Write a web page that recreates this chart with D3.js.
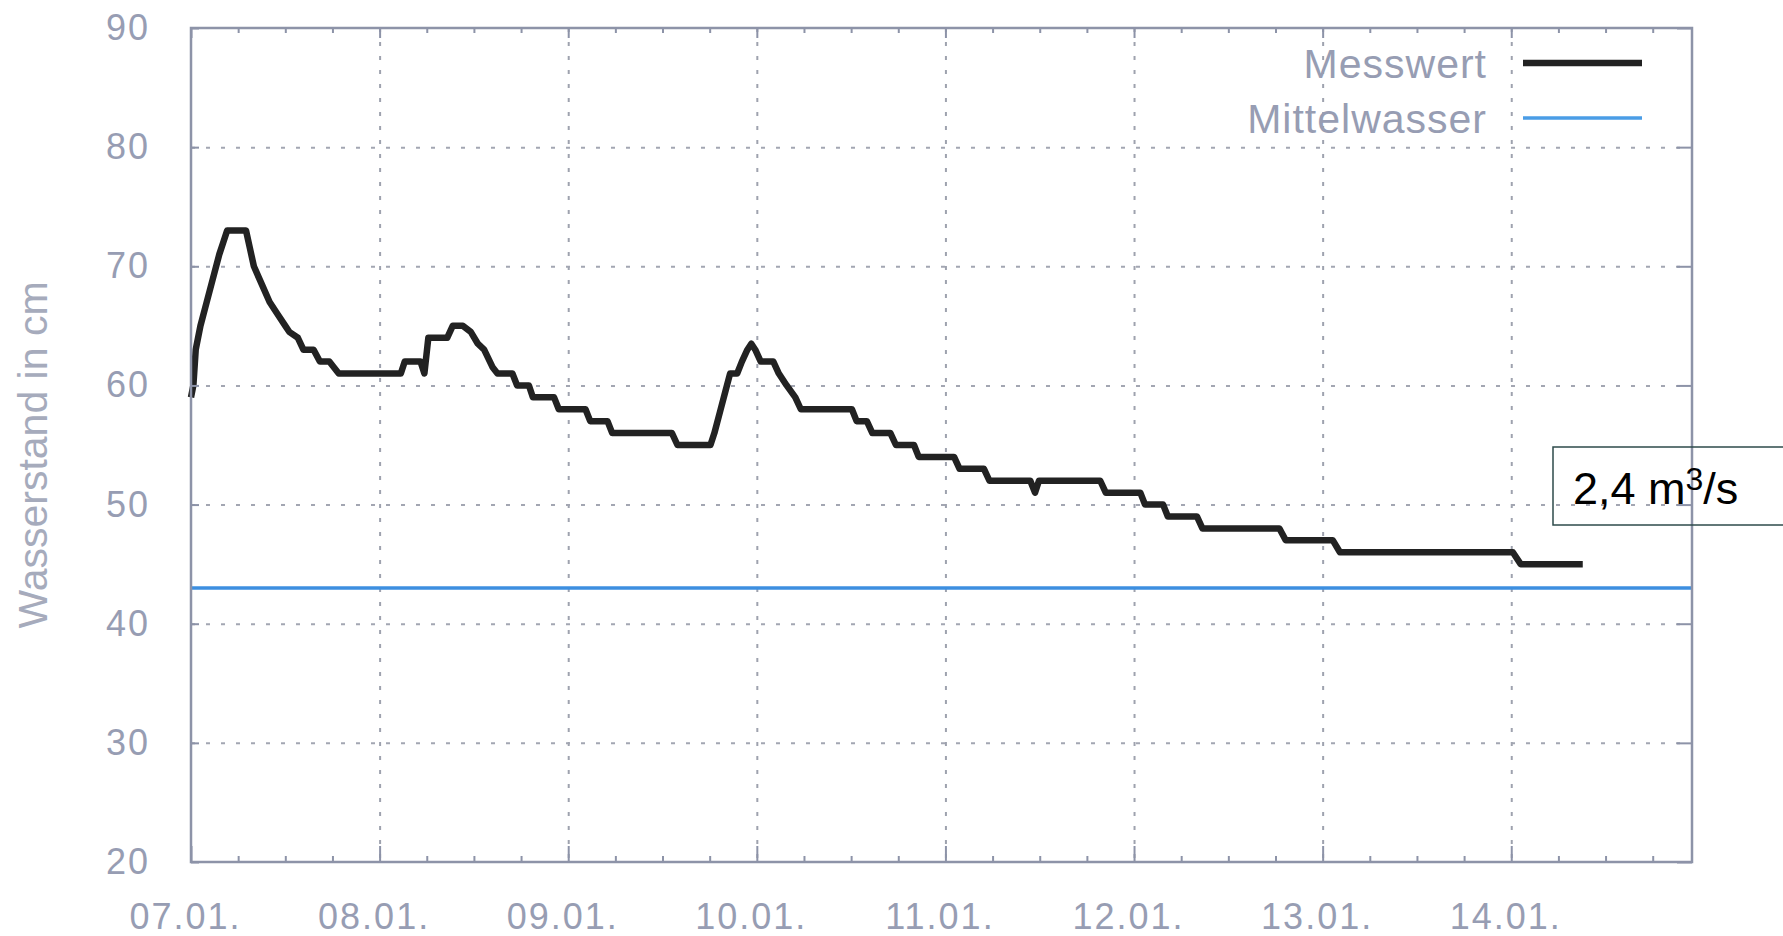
<!DOCTYPE html>
<html>
<head>
<meta charset="utf-8">
<script src="https://cdn.jsdelivr.net/npm/d3@7"></script>
<style>
  body { margin: 0; background: #fff; overflow: hidden; }
  svg text { font-family: "Liberation Sans", Arial, sans-serif; }
</style>
</head>
<body>
<div id="my_dataviz"></div>
<script>

// values: hours since 07.01. 00:00 and water level in cm
var hours = [0, 0.3, 0.6, 1.2, 2, 3, 3.6, 4.1, 4.6, 7, 7.5, 8, 9, 10, 11, 12, 12.5, 13.6, 14.3, 15.6,
  16.4, 17.6, 18.2, 18.8, 26.7, 27.2, 29.2, 29.7, 30.2, 32.6, 33.3, 34.6, 35.6, 36.5, 37.3, 38.4,
  39, 40.9, 41.5, 43, 43.5, 46.2, 46.8, 50.2, 50.8, 53, 53.6, 61.2, 61.9, 66.1, 66.6, 67.4, 68,
  68.6, 69.5, 70.1, 70.8, 71.3, 71.8, 72.5, 74.1, 74.8, 75.8, 76.9, 77.6, 84.1, 84.7, 86, 86.7,
  89, 89.7, 92, 92.6, 97.1, 97.8, 100.9, 101.6, 106.8, 107.4, 107.9, 115.7, 116.4, 120.8, 121.4,
  123.7, 124.3, 128, 128.7, 138.5, 139.3, 145.3, 146.2, 168.2, 169.2, 177.1];
var levels = [59, 60, 63, 65, 67, 69.5, 71, 72, 73, 73, 71.5, 70, 68.5, 67, 66, 65, 64.5, 64, 63, 63,
  62, 62, 61.5, 61, 61, 62, 62, 61, 64, 64, 65, 65, 64.5, 63.5, 63, 61.5,
  61, 61, 60, 60, 59, 59, 58, 58, 57, 57, 56, 56, 55, 55, 56, 58, 59.5,
  61, 61, 62, 63, 63.5, 63, 62, 62, 61, 60, 59, 58, 58, 57, 57, 56,
  56, 55, 55, 54, 54, 53, 53, 52, 52, 51, 52, 52, 51, 51, 50,
  50, 49, 49, 48, 48, 47, 47, 46, 46, 45, 45];
var mittelwasser = 43;

var seriesNames = ["Messwert", "Mittelwasser"];
var yTicks = [20, 30, 40, 50, 60, 70, 80, 90];
var dayTicks = [0, 24, 48, 72, 96, 120, 144, 168];
var dayLabels = ["07.01.", "08.01.", "09.01.", "10.01.", "11.01.", "12.01.", "13.01.", "14.01."];
var yTitle = "Wasserstand in cm";

var data = hours.map(function(h, i) { return {h: h, v: levels[i]}; });

// set the dimensions and margins of the graph
var margin = {top: 28, right: 91, bottom: 74, left: 191};
var width = 1783 - margin.left - margin.right;
var height = 936 - margin.top - margin.bottom;

var frameColor = "#8d93a8";
var textColor = "#979db3";

var root = d3.select("#my_dataviz")
  .append("svg")
    .attr("width", 1783)
    .attr("height", 936);

var svg = root.append("g")
    .attr("transform", "translate(" + margin.left + "," + margin.top + ")");

// scales
var x = d3.scaleLinear()
  .domain([0, 191])
  .range([0, width]);

var y = d3.scaleLinear()
  .domain([20, 90])
  .range([height, 0]);

// dotted grid
var gx = svg.append("g")
  .call(d3.axisBottom(x).tickValues(dayTicks.slice(1)).tickSize(height).tickFormat(""));
gx.select(".domain").remove();
gx.selectAll("line")
  .attr("stroke", "#9ea2ae")
  .attr("stroke-width", 2)
  .attr("stroke-dasharray", "4,10");

var gy = svg.append("g")
  .call(d3.axisLeft(y).tickValues(yTicks.slice(1, -1)).tickSize(-width).tickFormat(""));
gy.select(".domain").remove();
gy.selectAll("line")
  .attr("stroke", "#a3a6b2")
  .attr("stroke-width", 2)
  .attr("stroke-dasharray", "4,11");

// Mittelwasser line
svg.append("line")
  .attr("x1", 0)
  .attr("x2", width)
  .attr("y1", y(mittelwasser))
  .attr("y2", y(mittelwasser))
  .attr("stroke", "#3d8fe0")
  .attr("stroke-width", 3.5);

// Messwert line
svg.append("path")
  .datum(data)
  .attr("fill", "none")
  .attr("stroke", "#222")
  .attr("stroke-width", 6.5)
  .attr("stroke-linejoin", "round")
  .attr("d", d3.line()
    .x(function(d) { return x(d.h); })
    .y(function(d) { return y(d.v); }));

// frame
svg.append("rect")
  .attr("width", width)
  .attr("height", height)
  .attr("fill", "none")
  .attr("stroke", frameColor)
  .attr("stroke-width", 2.5);

// minor ticks every 6 hours
var minorTicks = d3.range(6, 191, 6).filter(function(h) { return h % 24 != 0; });

function styleAxis(g) {
  g.select(".domain").remove();
  g.selectAll("line").attr("stroke", frameColor).attr("stroke-width", 2);
  g.selectAll("text")
    .attr("fill", textColor)
    .style("font-size", "36px")
    .style("letter-spacing", "2px");
}

// Add X axis (bottom, ticks inward)
svg.append("g")
  .attr("transform", "translate(0," + height + ")")
  .call(d3.axisBottom(x).tickValues(dayTicks).tickSize(-16).tickPadding(41)
    .tickFormat(function(d, i) { return dayLabels[i]; }))
  .call(styleAxis)
  .selectAll("text").attr("dx", -6);

svg.append("g")
  .attr("transform", "translate(0," + height + ")")
  .call(d3.axisBottom(x).tickValues(minorTicks).tickSize(-6).tickFormat(""))
  .call(styleAxis);

svg.append("g")
  .call(d3.axisTop(x).tickValues(dayTicks).tickSize(-10).tickFormat(""))
  .call(styleAxis);

svg.append("g")
  .call(d3.axisTop(x).tickValues(minorTicks).tickSize(-5).tickFormat(""))
  .call(styleAxis);

// Add Y axis (left labels, right inward ticks)
svg.append("g")
  .call(d3.axisLeft(y).tickValues(yTicks).tickSize(-8).tickPadding(41))
  .call(styleAxis);

svg.append("g")
  .attr("transform", "translate(" + width + ",0)")
  .call(d3.axisRight(y).tickValues(yTicks).tickSize(-15).tickFormat(""))
  .call(styleAxis);

// y label
root.append("text")
  .attr("transform", "translate(47,455) rotate(-90)")
  .attr("text-anchor", "middle")
  .attr("fill", "#a6abbc")
  .style("font-size", "41px")
  .text(yTitle);

// legend
var legendColors = ["#222", "#4a9de6"];
var legendWidths = [6.5, 3.5];
var legend = root.selectAll("g.legend")
  .data(seriesNames)
  .enter()
  .append("g")
    .attr("class", "legend")
    .attr("transform", function(d, i) { return "translate(0," + (63 + i * 55) + ")"; });

legend.append("text")
  .attr("x", 1487)
  .attr("dy", "0.36em")
  .attr("text-anchor", "end")
  .attr("fill", textColor)
  .style("font-size", "41px")
  .style("letter-spacing", "1px")
  .text(function(d) { return d; });

legend.append("line")
  .attr("x1", 1523)
  .attr("x2", 1642)
  .attr("stroke", function(d, i) { return legendColors[i]; })
  .attr("stroke-width", function(d, i) { return legendWidths[i]; });

// discharge note
root.append("rect")
  .attr("x", 1553)
  .attr("y", 447)
  .attr("width", 260)
  .attr("height", 78)
  .attr("fill", "none")
  .attr("stroke", "#2e4b4b")
  .attr("stroke-width", 1.5);

var note = root.append("text")
  .attr("x", 1573)
  .attr("y", 504)
  .attr("fill", "#000")
  .style("font-size", "45px");
note.append("tspan").text("2,4 m");
note.append("tspan").attr("dy", -14).style("font-size", "32px").text("3");
note.append("tspan").attr("dy", 14).text("/s");

</script>
</body>
</html>
